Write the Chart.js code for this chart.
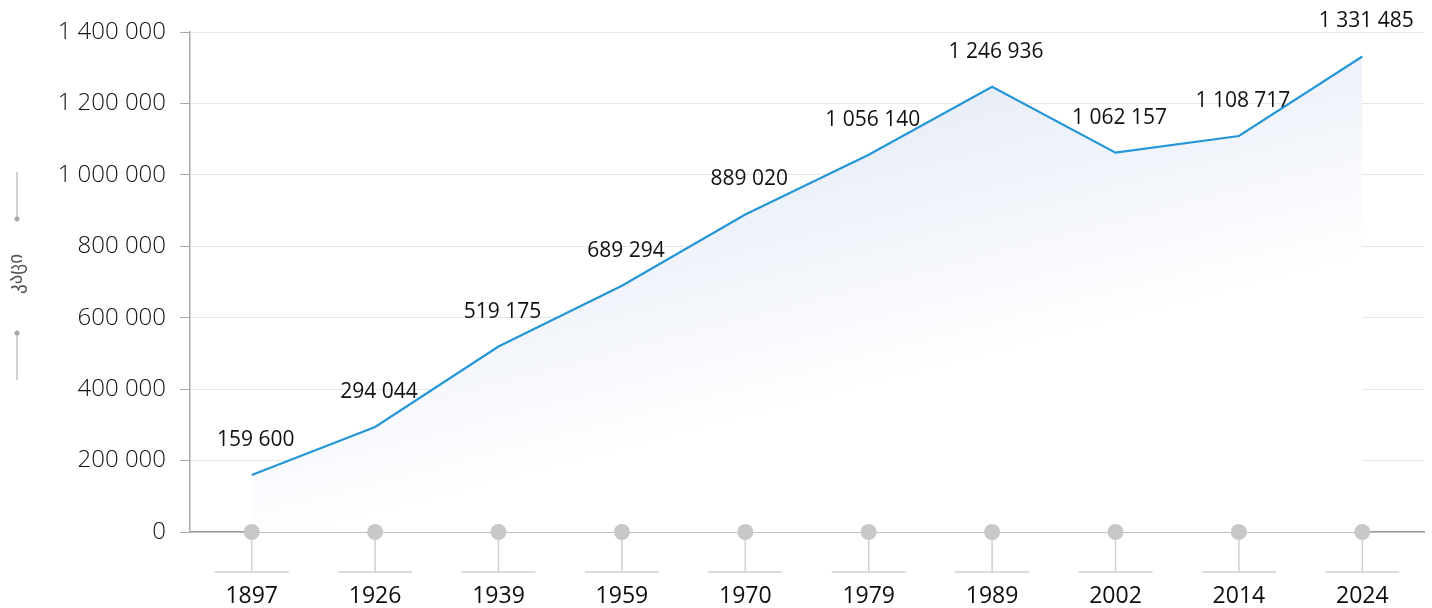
<!DOCTYPE html>
<html><head><meta charset="utf-8">
<script src="https://cdn.jsdelivr.net/npm/chart.js@4"></script>
<style>html,body{margin:0;padding:0;background:#fff}#wrap{width:1432px;height:608px}</style>
</head><body><div id="wrap"><canvas id="c" width="1432" height="608"></canvas></div>
<script>
const years = ['1897','1926','1939','1959','1970','1979','1989','2002','2014','2024'];
const population = [159600, 294044, 519175, 689294, 889020, 1056140, 1246936, 1062157, 1108717, 1331485];
const yTicks = [0, 200000, 400000, 600000, 800000, 1000000, 1200000, 1400000];
const yTitle = 'კაცი';

const fmt = v => String(v).replace(/\B(?=(\d{3})+(?!\d))/g, ' ');

const decor = {
  id: 'decor',
  afterDatasetsDraw(chart) {
    const ctx = chart.ctx, x = chart.scales.x, y = chart.scales.y;
    const meta = chart.getDatasetMeta(0);
    ctx.save();
    ctx.font = '400 21px "Open Sans", sans-serif';
    ctx.fillStyle = '#111';
    ctx.textAlign = 'center';
    ctx.textBaseline = 'middle';
    meta.data.forEach((pt, i) => {
      ctx.fillText(fmt(population[i]), pt.x + 4, pt.y - 35);
    });
    years.forEach((yr, i) => {
      const px = x.getPixelForValue(i);
      const base = y.getPixelForValue(0);
      ctx.strokeStyle = '#d0d0d0';
      ctx.lineWidth = 1.5;
      ctx.beginPath(); ctx.moveTo(px, base); ctx.lineTo(px, base + 40); ctx.stroke();
      ctx.beginPath(); ctx.moveTo(px - 37, base + 40); ctx.lineTo(px + 37, base + 40); ctx.stroke();
      ctx.fillStyle = '#c8c8cb';
      ctx.beginPath(); ctx.arc(px, base, 8, 0, Math.PI * 2); ctx.fill();
      ctx.fillStyle = '#0d0d0d';
      ctx.font = '400 23px "Open Sans", sans-serif';
      ctx.textAlign = 'center';
      ctx.textBaseline = 'middle';
      ctx.fillText(yr, px, base + 64);
    });
    const cy = 274, tx = 17;
    ctx.save();
    ctx.translate(tx, cy);
    ctx.rotate(-Math.PI / 2);
    ctx.font = '400 19px "DejaVu Sans", sans-serif';
    ctx.fillStyle = '#555';
    ctx.textAlign = 'center';
    ctx.textBaseline = 'middle';
    ctx.fillText(yTitle, 0, 0);
    ctx.restore();
    ctx.strokeStyle = '#b5b5b5'; ctx.lineWidth = 1.2;
    ctx.beginPath(); ctx.moveTo(tx, 172); ctx.lineTo(tx, 219); ctx.stroke();
    ctx.beginPath(); ctx.moveTo(tx, 333); ctx.lineTo(tx, 380); ctx.stroke();
    ctx.fillStyle = '#a8a8a8';
    ctx.beginPath(); ctx.arc(tx, 219, 2.5, 0, Math.PI * 2); ctx.fill();
    ctx.beginPath(); ctx.arc(tx, 333, 2.5, 0, Math.PI * 2); ctx.fill();
    ctx.restore();
  }
};

new Chart(document.getElementById('c'), {
  type: 'line',
  data: {
    labels: years,
    datasets: [{
      data: population,
      borderColor: '#2596d6',
      borderWidth: 2.2,
      pointRadius: 0,
      tension: 0,
      fill: 'origin',
      backgroundColor(context) {
        const { ctx, chartArea } = context.chart;
        if (!chartArea) return 'rgba(220,228,243,0.6)';
        const g = ctx.createLinearGradient(chartArea.left + 120, chartArea.bottom, chartArea.left, chartArea.top + 40);
        g.addColorStop(0, 'rgba(255,255,255,1)');
        g.addColorStop(0.08, 'rgba(251,252,254,1)');
        g.addColorStop(1, 'rgba(214,223,241,1)');
        return g;
      }
    }]
  },
  options: {
    responsive: false,
    animation: false,
    devicePixelRatio: 1,
    layout: { padding: { top: 32, right: 8, left: 0, bottom: 0 } },
    plugins: { legend: { display: false }, tooltip: { enabled: false } },
    scales: {
      x: {
        offset: true,
        grid: { display: false, drawTicks: false },
        border: { display: true, color: '#9a9a9a', width: 1.5 },
        ticks: { display: false },
        afterFit(s) { s.height = 76; }
      },
      y: {
        min: 0, max: 1400000,
        afterBuildTicks(s) { s.ticks = yTicks.map(v => ({ value: v })); },
        grid: { color: '#e6e6e6', lineWidth: 1, tickLength: 10, tickColor: '#aaaaaa' },
        border: { display: true, color: '#aaaaaa', width: 1.5 },
        ticks: {
          padding: 14,
          color: '#111',
          font: { family: '"Open Sans", sans-serif', size: 24, weight: 300 },
          callback: v => fmt(v)
        },
        afterFit(s) { s.width = 190; }
      }
    }
  },
  plugins: [decor]
});
</script></body></html>
